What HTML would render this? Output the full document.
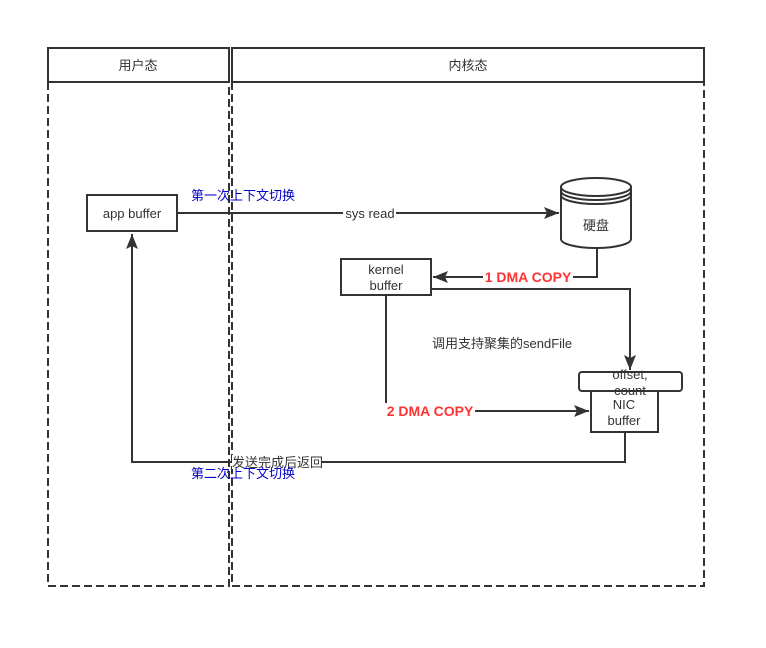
<!DOCTYPE html>
<html><head><meta charset="utf-8"><style>
html,body{margin:0;padding:0;background:#fff;}
svg{display:block}
text{font-family:"Liberation Sans","Noto Sans CJK SC",sans-serif;font-size:13px;fill:#333}
</style></head><body>
<svg width="766" height="648" viewBox="0 0 766 648" xmlns="http://www.w3.org/2000/svg">
<defs>
<marker id="b" markerWidth="16" markerHeight="12" refX="15" refY="6" orient="auto" markerUnits="userSpaceOnUse">
<path d="M0,0 L15,6 L0,12 L3,6 Z" fill="#333"/></marker>
</defs>
<g stroke="#333" stroke-width="2" fill="none">
<rect x="48" y="48" width="181" height="34" fill="#fff"/>
<rect x="232" y="48" width="472" height="34" fill="#fff"/>
<path d="M48,82 V586 H229 V82" stroke-dasharray="8,4"/>
<path d="M232,82 V586 H704 V82" stroke-dasharray="8,4"/>
<rect x="87" y="195" width="90" height="36" fill="#fff"/>
<line x1="177" y1="213" x2="559" y2="213" marker-end="url(#b)"/>
<path d="M561,187 V239 A35,9 0 0 0 631,239 V187" fill="#fff"/>
<ellipse cx="596" cy="187" rx="35" ry="9" fill="#fff"/>
<path d="M561,191 A35,9 0 0 0 631,191 M561,195 A35,9 0 0 0 631,195"/>
<path d="M597,248 V277 H433" marker-end="url(#b)"/>
<rect x="341" y="259" width="90" height="36" fill="#fff"/>
<path d="M431,289 H630 V370" marker-end="url(#b)"/>
<path d="M386,295 V411 H589" marker-end="url(#b)"/>
<rect x="591" y="390" width="67" height="42" fill="#fff"/>
<rect x="579" y="372" width="103" height="19" rx="3" fill="#fff"/>
<path d="M625,432 V462 H132 V234" marker-end="url(#b)"/>
</g>
<text x="138" y="70" text-anchor="middle">用户态</text>
<text x="468" y="70" text-anchor="middle">内核态</text>
<text x="132" y="218" text-anchor="middle">app buffer</text>
<text x="191" y="200" style="fill:#0000cc">第一次上下文切换</text>
<rect x="343" y="205" width="53" height="16" fill="#fff"/>
<text x="370" y="218" text-anchor="middle">sys read</text>
<text x="596" y="230" text-anchor="middle">硬盘</text>
<text x="386" y="274" text-anchor="middle">kernel</text>
<text x="386" y="290" text-anchor="middle">buffer</text>
<rect x="483" y="268" width="90" height="18" fill="#fff"/>
<text x="528" y="282" text-anchor="middle" style="fill:#ff3333;font-weight:bold;font-size:14px">1 DMA COPY</text>
<text x="432" y="348">调用支持聚集的sendFile</text>
<text x="630" y="379" text-anchor="middle">offset,</text>
<text x="630" y="395" text-anchor="middle">count</text>
<text x="624" y="409" text-anchor="middle">NIC</text>
<text x="624" y="425" text-anchor="middle">buffer</text>
<rect x="385" y="403" width="90" height="17" fill="#fff"/>
<text x="430" y="416" text-anchor="middle" style="fill:#ff3333;font-weight:bold;font-size:14px">2 DMA COPY</text>
<rect x="232" y="455" width="90" height="14" fill="#fff"/>
<text x="232" y="467">发送完成后返回</text>
<text x="191" y="478" style="fill:#0000cc">第二次上下文切换</text>
</svg>
</body></html>
